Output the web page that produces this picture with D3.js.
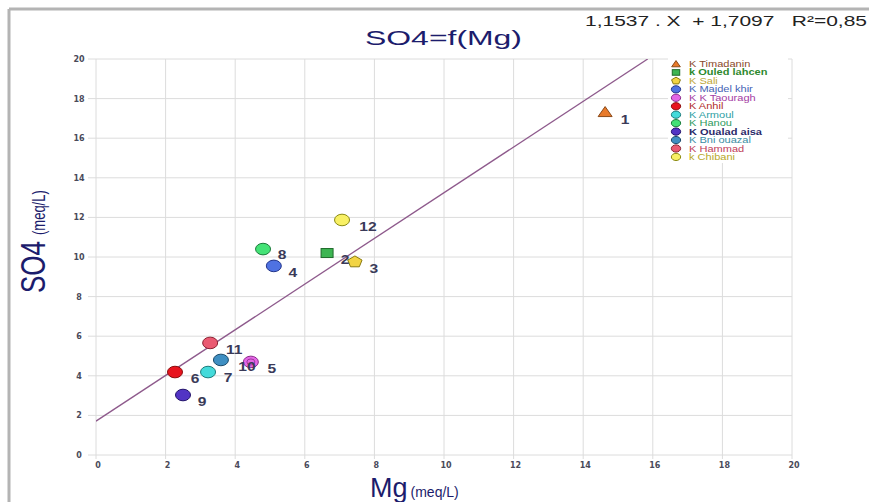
<!DOCTYPE html>
<html><head><meta charset="utf-8">
<script src="https://cdn.jsdelivr.net/npm/d3@7"></script>
<style>body{margin:0;background:#fff}svg{display:block}</style>
</head><body>
<svg id="c" width="869" height="502"></svg>
<script>
const ids = ["1","2","3","4","5","6","7","8","9","10","11","12"];
const names = ["K Timadanin","k Ouled lahcen","K Sali","K Majdel khir","K K Taouragh","K Anhil","K Armoul","K Hanou","K Oualad aisa","K Bni ouazal","K Hammad","k Chibani"];
const mgValues = [14.63, 6.64, 7.44, 5.11, 4.45, 2.27, 3.22, 4.8, 2.5, 3.59, 3.28, 7.07];
const so4Values = [17.32, 10.2, 9.75, 9.55, 4.7, 4.19, 4.19, 10.4, 3.03, 4.8, 5.66, 11.87];
const shapes = ["triangle","square","pentagon","circle","circle","circle","circle","circle","circle","circle","circle","circle"];
const fills = ["#e87a2a","#3db552","#f2d444","#4f72e2","#e466e6","#e8141e","#44dada","#44e276","#5234c4","#3f8fc2","#ea5a72","#f8f064"];
const strokes = ["#8a4a1a","#1e6a2a","#8a7a10","#23358a","#8a2a8a","#8a0a0a","#1a7a7a","#1a7a3a","#20106a","#1a4a6a","#8a2030","#8a8a10"];
const legendColors = ["#8a4a2a","#2e8a2e","#c0a838","#4462b4","#a43ca4","#b02a2a","#2ea0a4","#2e9a5e","#2a2a6a","#3a8ea4","#c0405a","#b8a828"];
const xTicks = [0,2,4,6,8,10,12,14,16,18,20];
const yTicks = [0,2,4,6,8,10,12,14,16,18,20];
const slope = 1.1537, intercept = 1.7097;
const equationText = "1,1537 . X  + 1,7097   R²=0,85";
const labelOffsets = [[20,7],[18,6],[19,6],[19,6],[21,6],[20,6],[20,5],[19,5],[19,6],[26,6],[24,6],[26,6]];

const svg = d3.select("#c");
const x = d3.scaleLinear().domain([0,20]).range([96,792]);
const y = d3.scaleLinear().domain([0,20]).range([455,59]);

// frame
svg.append("line").attr("x1",9).attr("x2",869).attr("y1",9).attr("y2",9).attr("stroke","#b4b4b4").attr("stroke-width",3);
svg.append("line").attr("x1",9).attr("x2",9).attr("y1",9).attr("y2",502).attr("stroke","#b4b4b4").attr("stroke-width",3);

// grid
const g = svg.append("g");
g.selectAll(".vg").data(xTicks).join("line").attr("x1",d=>x(d)).attr("x2",d=>x(d)).attr("y1",y(20)).attr("y2",y(0)+4)
  .attr("stroke","#dcdcdc").attr("stroke-width",1);
g.selectAll(".hg").data(yTicks).join("line").attr("x1",x(0)-8).attr("x2",x(20)).attr("y1",d=>y(d)).attr("y2",d=>y(d))
  .attr("stroke","#dcdcdc").attr("stroke-width",1);
g.selectAll(".yt").data(yTicks).join("text").attr("x",79).attr("y",d=>y(d)+3).attr("text-anchor","middle")
  .attr("font-family","DejaVu Sans, sans-serif").attr("font-size",8).attr("font-weight","bold").attr("fill","#4a4a5a").text(d=>d);
g.selectAll(".xt").data(xTicks).join("text").attr("x",d=>x(d)+2).attr("y",468).attr("text-anchor","middle")
  .attr("font-family","DejaVu Sans, sans-serif").attr("font-size",8).attr("font-weight","bold").attr("fill","#4a4a5a").text(d=>d);

// legend background
svg.append("rect").attr("x",668).attr("y",57).attr("width",120).attr("height",106).attr("fill","#fff");

// regression line
svg.append("clipPath").attr("id","pc").append("rect").attr("x",x(0)).attr("y",y(20)).attr("width",x(20)-x(0)).attr("height",y(0)-y(20));
const xEnd = (20-intercept)/slope;
svg.append("line").attr("clip-path","url(#pc)")
  .attr("x1",x(0)).attr("y1",y(intercept)).attr("x2",x(xEnd)).attr("y2",y(slope*xEnd+intercept))
  .attr("stroke","#8e5a8c").attr("stroke-width",1.3);

function drawMarker(sel, shape, cx, cy, fill, stroke, s) {
  if (shape==="circle") {
    sel.append("ellipse").attr("cx",cx).attr("cy",cy).attr("rx",7.5*s).attr("ry",5.8*s).attr("fill",fill).attr("stroke",stroke).attr("stroke-width",1);
  } else if (shape==="square") {
    sel.append("rect").attr("x",cx-6*s).attr("y",cy-4.5*s).attr("width",12*s).attr("height",9*s).attr("fill",fill).attr("stroke",stroke).attr("stroke-width",1);
  } else if (shape==="triangle") {
    sel.append("path").attr("d",`M${cx},${cy-5.5*s}L${cx+7*s},${cy+4.5*s}L${cx-7*s},${cy+4.5*s}Z`).attr("fill",fill).attr("stroke",stroke).attr("stroke-width",1);
  } else if (shape==="pentagon") {
    const pts = d3.range(5).map(i=>{const a=-Math.PI/2+i*2*Math.PI/5;return [cx+7.5*s*Math.cos(a), cy+6*s*Math.sin(a)];});
    sel.append("path").attr("d","M"+pts.map(p=>p.join(",")).join("L")+"Z").attr("fill",fill).attr("stroke",stroke).attr("stroke-width",1);
  }
}

// points
const pg = svg.append("g");
ids.forEach((id,i)=>{
  drawMarker(pg, shapes[i], x(mgValues[i]), y(so4Values[i]), fills[i], strokes[i], 1);
  if (i===4) pg.append("ellipse").attr("cx",x(mgValues[i])).attr("cy",y(so4Values[i])).attr("rx",4).attr("ry",3).attr("fill","none").attr("stroke","#8a2a8a").attr("stroke-width",0.8);
});
ids.forEach((id,i)=>{
  pg.append("text").attr("transform",`translate(${x(mgValues[i])+labelOffsets[i][0]},${y(so4Values[i])+labelOffsets[i][1]+5}) scale(1.2,1)`)
    .attr("text-anchor","middle").attr("font-family","Liberation Sans, Arial, sans-serif").attr("font-size",13).attr("font-weight","bold")
    .attr("fill","#3a3a58").text(id);
});

// legend
const lg = svg.append("g");
names.forEach((n,i)=>{
  const ly = 64 + i*8.45;
  drawMarker(lg, shapes[i], 676, ly, fills[i], strokes[i], 0.62);
  lg.append("text").attr("transform",`translate(689,${ly+3}) scale(1.3,1)`).attr("font-family","Liberation Sans, Arial, sans-serif").attr("font-size",8.5)
    .attr("font-weight", i===1||i===8 ? "bold" : "normal").attr("fill",legendColors[i]).text(n);
});

// titles
svg.append("text").attr("x",365).attr("y",45).attr("font-family","Liberation Sans, Arial, sans-serif")
  .attr("font-size",21).attr("textLength",157).attr("lengthAdjust","spacingAndGlyphs").attr("fill","#1c1c6c").text("SO4=f(Mg)");
svg.append("text").attr("x",585).attr("y",26).attr("font-family","Liberation Sans, Arial, sans-serif")
  .attr("font-size",14.5).attr("textLength",282).attr("lengthAdjust","spacingAndGlyphs").attr("fill","#222").style("white-space","pre").text(equationText);

const yt = svg.append("text").attr("transform","translate(45,293) scale(1.35,1) rotate(-90)").attr("font-family","Liberation Sans, Arial, sans-serif").attr("fill","#1c1c6c");
yt.append("tspan").attr("font-size",26).text("SO4");
yt.append("tspan").attr("font-size",13).attr("dx",6).text("(meq/L)");
const xt = svg.append("text").attr("x",370).attr("y",497).attr("font-family","Liberation Sans, Arial, sans-serif").attr("fill","#1c1c6c");
xt.append("tspan").attr("font-size",27).text("Mg");
xt.append("tspan").attr("font-size",14).attr("dx",3).text("(meq/L)");
</script>
</body></html>
